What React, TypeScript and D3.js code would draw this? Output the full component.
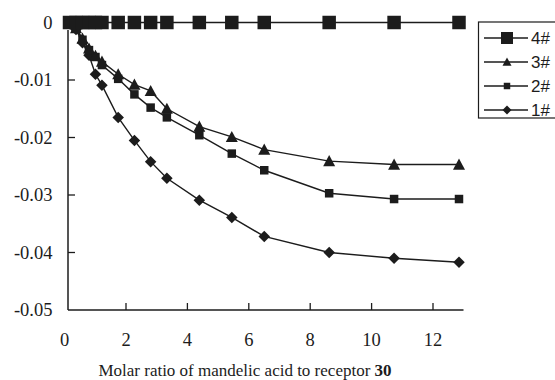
import React from "react";
import * as d3 from "d3";

const xTicks = [0, 2, 4, 6, 8, 10, 12];
const yTicks = [0, -0.01, -0.02, -0.03, -0.04, -0.05];
const yTickLabels = ["0", "-0.01", "-0.02", "-0.03", "-0.04", "-0.05"];

const xRatio = [0, 0.2, 0.4, 0.6, 0.8, 1.0, 1.5, 2, 2.5, 3, 4, 5, 6, 8, 10, 12];
const s1 = [0, -0.0012, -0.0035, -0.0057, -0.009, -0.0109, -0.0165, -0.0205, -0.0242, -0.0271, -0.0309, -0.0339, -0.0372, -0.04, -0.041, -0.0417];
const s2 = [0, -0.001, -0.003, -0.0048, -0.006, -0.0074, -0.0098, -0.0125, -0.0148, -0.0165, -0.0196, -0.0228, -0.0257, -0.0297, -0.0307, -0.0307];
const s3 = [0, -0.001, -0.0028, -0.0045, -0.0058, -0.0068, -0.009, -0.0108, -0.0119, -0.015, -0.0181, -0.0199, -0.0221, -0.0241, -0.0247, -0.0247];
const x4 = [0, 0.2, 0.4, 0.6, 0.8, 1.0, 1.5, 2, 2.5, 3, 4, 5, 6, 8, 10, 12];
const s4 = [0, 0, 0, 0, 0, 0, 0, 0, 0, 0, 0, 0, 0, 0, 0, 0];

const seriesNames = ["4#", "3#", "2#", "1#"];

// axis scale (labels) and data scale as in the original figure
const xAxisScale = d3.scaleLinear().domain([0, 13]).range([64.6, 463.7]);
const xScale = d3.scaleLinear().domain([0, 12]).range([69.5, 459]);
const yScale = d3.scaleLinear().domain([0, -0.05]).range([22.5, 310]);

type Shape = "bigsquare" | "triangle" | "square" | "diamond";

function markerPath(shape: Shape, cx: number, cy: number, s: number): string {
  const h = s / 2;
  if (shape === "bigsquare" || shape === "square") {
    return `M${cx - h},${cy - h}H${cx + h}V${cy + h}H${cx - h}Z`;
  }
  if (shape === "triangle") {
    return `M${cx},${cy - h}L${cx + h},${cy + h * 0.85}L${cx - h},${cy + h * 0.85}Z`;
  }
  return `M${cx},${cy - h}L${cx + h},${cy}L${cx},${cy + h}L${cx - h},${cy}Z`;
}

const series = [
  { name: "1#", xs: xRatio, ys: s1, shape: "diamond" as Shape, size: 11.5, lsize: 9 },
  { name: "2#", xs: xRatio, ys: s2, shape: "square" as Shape, size: 8.5, lsize: 6.5 },
  { name: "3#", xs: xRatio, ys: s3, shape: "triangle" as Shape, size: 12, lsize: 9 },
  { name: "4#", xs: x4, ys: s4, shape: "bigsquare" as Shape, size: 13.5, lsize: 12 },
];

const ink = "#1c1c1c";
const serif = "'Liberation Serif', 'Times New Roman', serif";

export default function App() {
  const line = d3
    .line<[number, number]>()
    .x((d) => xScale(d[0]))
    .y((d) => yScale(d[1]));

  const axisY0 = 68;
  const legendRows = seriesNames.map((n, i) => ({
    name: n,
    y: 38 + i * 24,
    s: series.find((s) => s.name === n)!,
  }));

  return (
    <svg
      width={555}
      height={380}
      style={{ position: "absolute", left: 0, top: 0, background: "#fff" }}
    >
      <rect x={0} y={0} width={555} height={380} fill="#fff" />
      {/* axes */}
      <line x1={axisY0} y1={30} x2={axisY0} y2={yScale(-0.05)} stroke={ink} strokeWidth={1.5} />
      <line x1={axisY0} y1={yScale(-0.05)} x2={463.5} y2={yScale(-0.05)} stroke={ink} strokeWidth={1.6} />
      {yTicks.slice(1, 5).map((t) => (
        <line key={t} x1={axisY0} x2={axisY0 + 7} y1={yScale(t)} y2={yScale(t)} stroke={ink} strokeWidth={1.3} />
      ))}
      {xTicks.slice(1).map((t) => (
        <line key={t} x1={xAxisScale(t)} x2={xAxisScale(t)} y1={yScale(-0.05)} y2={yScale(-0.05) - 7} stroke={ink} strokeWidth={1.3} />
      ))}
      {yTicks.map((t, i) => (
        <text
          key={t}
          x={52.5}
          y={yScale(t)}
          dy="0.35em"
          textAnchor="end"
          fontFamily={serif}
          fontSize={18.5}
          fill={ink}
        >
          {yTickLabels[i]}
        </text>
      ))}
      {xTicks.map((t) => (
        <text
          key={t}
          x={xAxisScale(t)}
          y={346}
          textAnchor="middle"
          fontFamily={serif}
          fontSize={18.5}
          fill={ink}
        >
          {t}
        </text>
      ))}
      <text
        x={245}
        y={376}
        textAnchor="middle"
        fontFamily={serif}
        fontSize={17}
        fill={ink}
      >
        Molar ratio of mandelic acid to receptor <tspan fontWeight="bold">30</tspan>
      </text>

      {/* series */}
      {series.map((s) => {
        const pts = s.xs.map((x, i) => [x, s.ys[i]] as [number, number]);
        return (
          <g key={s.name}>
            <path d={line(pts) || ""} fill="none" stroke={ink} strokeWidth={1.4} />
            {pts.map((p, i) => (
              <path key={i} d={markerPath(s.shape, xScale(p[0]), yScale(p[1]), s.size)} fill={ink} />
            ))}
          </g>
        );
      })}

      {/* legend */}
      <rect x={478.5} y={22} width={90} height={96} fill="#fff" stroke={ink} strokeWidth={1.2} />
      {legendRows.map((r) => (
        <g key={r.name}>
          <line x1={484} x2={528} y1={r.y} y2={r.y} stroke={ink} strokeWidth={1.4} />
          <path d={markerPath(r.s.shape, 507, r.y, r.s.lsize)} fill={ink} />
          <text
            x={531}
            y={r.y}
            dy="0.36em"
            fontFamily="'Liberation Sans', Arial, sans-serif"
            fontSize={17}
            fill={ink}
          >
            {r.name}
          </text>
        </g>
      ))}
    </svg>
  );
}
